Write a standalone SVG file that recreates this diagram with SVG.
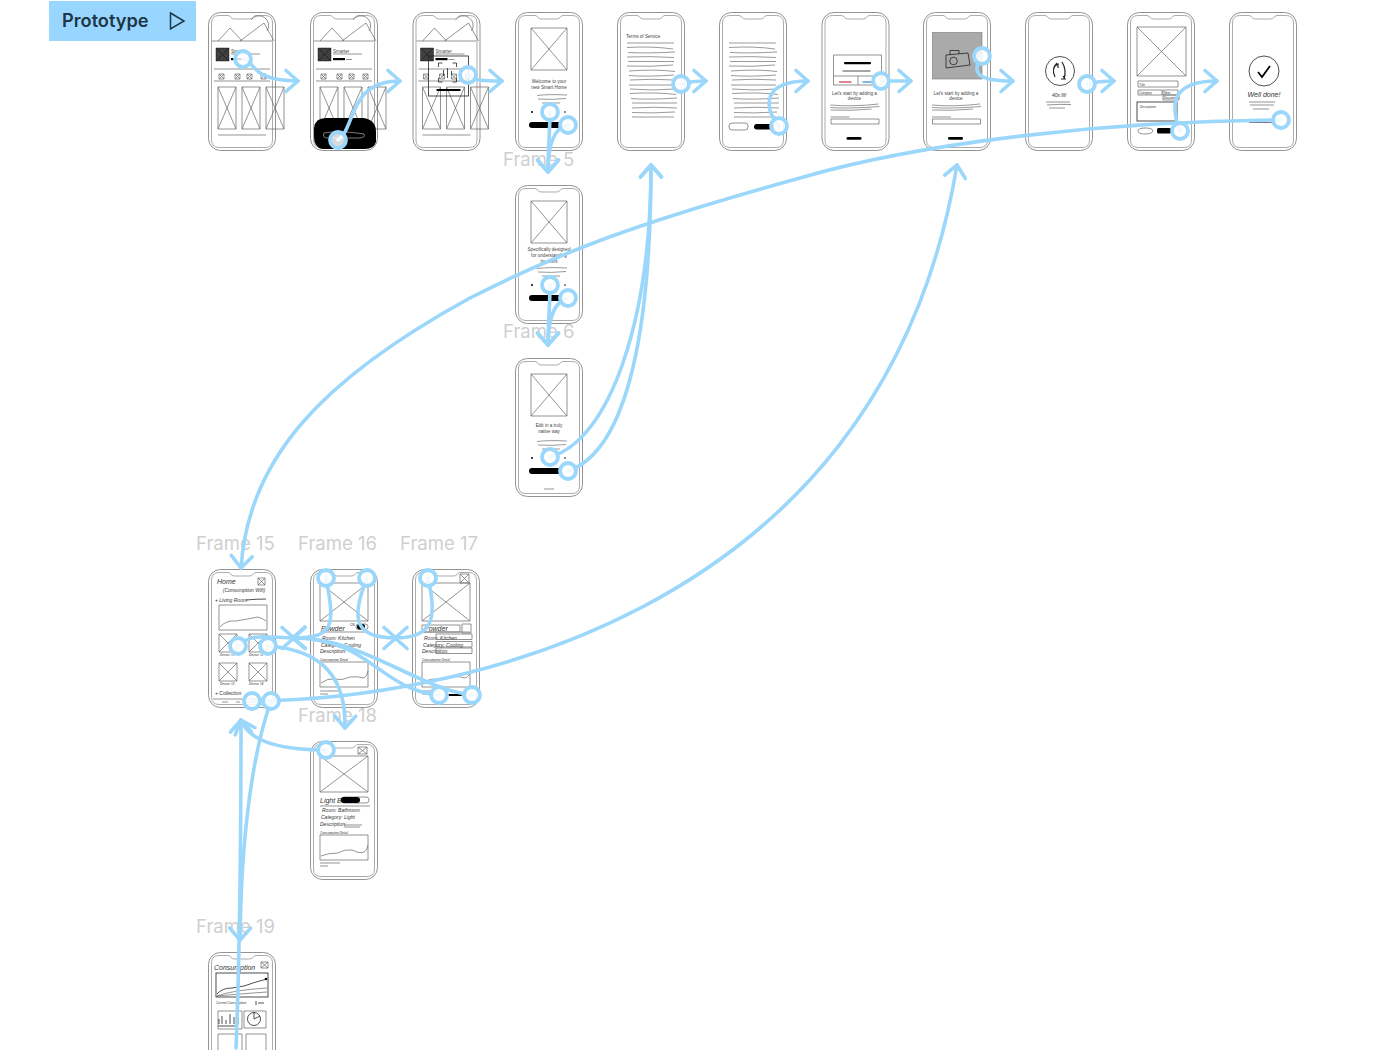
<svg xmlns="http://www.w3.org/2000/svg" width="1400" height="1050" viewBox="0 0 1400 1050">
<style>
.o{fill:#fff;stroke:#777;stroke-width:.8}
.i{fill:none;stroke:#888;stroke-width:.7}
.w{fill:none;stroke:#555;stroke-width:.6}
.l{fill:none;stroke:#666;stroke-width:.7;vector-effect:non-scaling-stroke}
.k{fill:none;stroke:#222;stroke-width:.8}
.b{fill:#000}
.t{font-family:"Liberation Sans",Arial,sans-serif;font-size:4.600px;fill:#444}
.c{text-anchor:middle}
.h{font-family:"Liberation Sans",Arial,sans-serif;font-style:italic;font-size:7px;fill:#333}
.hs{font-family:"Liberation Sans",Arial,sans-serif;font-style:italic;font-size:5px;fill:#333}
.xs{font-size:3.200px}
.f{font-family:Inter,"Liberation Sans",sans-serif;font-size:18.500px;fill:#cfcfcf}
.cn{fill:none;stroke:#9bd7fb;stroke-width:3.600;stroke-linecap:round;marker-start:url(#dot);marker-end:url(#arr)}
.cn2{fill:none;stroke:#9bd7fb;stroke-width:3.600;stroke-linecap:round;marker-end:url(#arr)}
</style>
<defs>
<marker id="arr" markerUnits="userSpaceOnUse" markerWidth="30" markerHeight="30" refX="15" refY="15" orient="auto" overflow="visible"><path d="M3 4.500L15 15L3 25.500" fill="none" stroke="#9bd7fb" stroke-width="3.600" stroke-linecap="round" stroke-linejoin="round"/></marker>
<marker id="dot" markerUnits="userSpaceOnUse" markerWidth="24" markerHeight="24" refX="12" refY="12" orient="0" overflow="visible"><circle cx="12" cy="12" r="8" fill="#fff" fill-opacity=".85" stroke="#9bd7fb" stroke-width="3.800"/></marker>
<g id="phone">
<rect class="o" x="0.500" y="0.500" width="67" height="138" rx="12"/>
<path class="i" d="M11 3.500H20Q22 3.500 23 5.500Q24 7 27 7H41Q44 7 45 5.500Q46 3.500 48 3.500H57Q64.500 3.500 64.500 11V128Q64.500 135.500 57 135.500H11Q3.500 135.500 3.500 128V11Q3.500 3.500 11 3.500Z"/>
</g>
<g id="xb"><rect class="l" width="10" height="10"/><path class="l" d="M0 0L10 10M10 0L0 10"/></g>
<g id="homebase">
<path class="l" d="M4 29H64M10 29L22 16L34 29M32 29L56 11L66 29"/>
<path class="l" d="M43 8A9 9 0 1 1 59 19"/>
<path class="l" d="M6 57H62M6 69H62M10 123H58M23 42H52"/>
<use href="#xb" transform="translate(8 36) scale(1.300)"/>
<rect class="b" x="8" y="36" width="13" height="13" fill-opacity=".75"/>
<use href="#xb" transform="translate(11 62) scale(.5)"/><use href="#xb" transform="translate(27 62) scale(.5)"/><use href="#xb" transform="translate(39 62) scale(.5)"/><use href="#xb" transform="translate(53 62) scale(.5)"/>
<use href="#xb" transform="translate(10 75) scale(1.800 4.200)"/><use href="#xb" transform="translate(34 75) scale(1.800 4.200)"/><use href="#xb" transform="translate(58 75) scale(1.800 4.200)"/>
<text class="t" x="23" y="40.500">Smarter</text>
<rect class="b" x="23" y="46" width="12" height="2.200"/>
<path class="l" d="M36 47.500H42"/>
</g>
<g id="onb">
<use href="#xb" transform="translate(16 16) scale(3.600 4.200)"/>
<path class="w" d="M22 83.500Q34 82 52 83M23 87Q36 88 51 86.500M27 91H45"/>
<circle class="b" cx="17" cy="100" r="1"/><circle class="b" cx="50" cy="100" r=".8"/>
<rect class="b" x="14" y="110" width="32" height="6" rx="3"/>
</g>
<path id="para" class="w" d="M0 0H47M0 4.500Q25 3 46 6M1 9.500Q20 10.500 48 9M0 14Q22 13 47 14.500M1 18.500H47M0 23Q25 24 46 22M2 28Q28 26 48 28.500M2 32.500Q20 34 47 32M3 37Q25 35.500 47 37M2 42H47M3 46Q25 48 48 46M3 50.500Q30 49 49 51.500M4 55.500Q22 57 50 55M5 60H50M5 65Q28 63.500 50 65M5 69.500Q25 70.500 48 69M5 74H47"/>
<g id="device">
<path class="w" d="M9 93Q30 95 57 92M9 95.500Q25 97 58 94.500M9 98Q30 99 50 97"/>
<path class="l" d="M9 105H28"/>
<rect class="l" x="9.500" y="107" width="48" height="5"/>
<rect class="b" x="25" y="125" width="15" height="2.800" rx="1.400"/>
<text class="t c" x="33" y="82.500">Let's start by adding a</text>
<text class="t c" x="33" y="88">device</text>
</g>
<g id="detail">
<use href="#xb" transform="translate(10 14) scale(4.800 3.800)"/>
<path class="l" d="M10 63H58"/>
<text class="hs" x="12" y="71">Room: Kitchen</text>
<text class="hs" x="11" y="77.500">Category: Cooling</text>
<text class="hs" x="10" y="84">Description:</text>
<text class="hs xs" x="10" y="92">Consumption Detail</text>
<rect class="l" x="10" y="93" width="48" height="25"/>
<path class="l" d="M11 114Q18 109 24 110Q32 112 40 108Q48 107 53 109Q57 108 58 102"/>
<path class="l" d="M10 122H28M10 125H18"/>
</g>
</defs>

<rect width="1400" height="1050" fill="#fff"/>
<g id="toolbar">
<rect x="49" y="1" width="147" height="40" fill="#99d6ff"/>
<text x="62" y="27" font-family="Inter,'Liberation Sans',sans-serif" font-weight="600" font-size="18.200" fill="#1c3748">Prototype</text>
<path d="M170.500 13L184 21L170.500 29Z" fill="none" stroke="#1c3748" stroke-width="1.500"/>
</g>

<g id="frame-1" transform="translate(208 12)"><use href="#phone"/><use href="#homebase"/></g>
<g id="frame-2" transform="translate(310 12)"><use href="#phone"/><use href="#homebase"/>
<path class="b" d="M4 116Q5 106 16 106H54Q66 108 66 120V130Q64 137 55 137H12Q4 135 4 125Z"/>
<path fill="none" stroke="#ccc" stroke-width=".6" d="M14 121Q30 118 54 122Q56 126 48 126H18Q12 126 14 121Z"/>
</g>
<g id="frame-3" transform="translate(412.500 12)"><use href="#phone"/><use href="#homebase"/>
<rect class="k" x="16" y="44" width="40" height="40"/>
<path class="k" d="M26 55V51H30M40 51H44V55M26 66V70H30M40 70H44V66M31 58V64M35 56V66M39 59V63"/>
<rect class="b" x="24" y="77" width="24" height="2"/>
</g>
<g id="frame-4" transform="translate(515 12)"><use href="#phone"/><use href="#onb"/>
<text class="t c" x="34" y="71">Welcome to your</text><text class="t c" x="34" y="77">new Smart Home</text>
</g>
<g id="frame-5" transform="translate(515 185)"><use href="#phone"/><use href="#onb"/>
<text class="t c" x="34" y="66">Specifically designed</text><text class="t c" x="34" y="72">for understanding</text><text class="t c" x="34" y="78">its users</text>
</g>
<g id="frame-6" transform="translate(515 358)"><use href="#phone"/><use href="#onb"/>
<text class="t c" x="34" y="69">Edit in a truly</text><text class="t c" x="34" y="75">native way</text>
<path class="l" d="M29 131H39"/>
</g>
<g id="frame-7" transform="translate(617 12)"><use href="#phone"/>
<text class="t" x="9" y="25.500">Terms of Service</text>
<use href="#para" transform="translate(10 31)"/>
</g>
<g id="frame-8" transform="translate(719 12)"><use href="#phone"/>
<use href="#para" transform="translate(10 31)"/>
<rect class="l" x="10" y="111" width="19" height="7" rx="3"/>
<rect class="b" x="35" y="112" width="20" height="5.500" rx="2.700"/>
</g>
<g id="frame-9" transform="translate(821.500 12)"><use href="#phone"/>
<rect class="l" x="12" y="43" width="48" height="30"/>
<rect class="b" x="22.500" y="50" width="27" height="2.200" rx="1"/>
<path class="k" d="M21 59H49"/>
<path class="l" d="M12 64H60M36.500 64V73"/>
<path d="M17.500 70H30" stroke="#d86a7c" stroke-width="1.600"/><path d="M41 70H55" stroke="#5aa7e0" stroke-width="1.600"/>
<use href="#device"/>
</g>
<g id="frame-10" transform="translate(923 12)"><use href="#phone"/>
<rect x="9.500" y="20.500" width="49.500" height="46.500" fill="#aaa" stroke="#777" stroke-width=".6"/>
<path class="k" d="M23 43L45 41L47 53L23 56ZM27 43V38.500H36V42"/><circle class="k" cx="30.500" cy="49" r="3.800"/>
<use href="#device"/>
</g>
<g id="frame-11" transform="translate(1025 12)"><use href="#phone"/>
<circle class="k" cx="35" cy="59" r="14.500"/>
<path d="M32 51Q26 57 30 65M37 50Q42 58 39 67M30 54L33 52L33 56M38 64L40 67L36 67" fill="none" stroke="#222" stroke-width="1.200"/>
<text class="hs c" x="34" y="85">40s fill</text>
<path class="l" d="M21 90H45M22 93Q35 92 46 92.500M24 96H40"/>
</g>
<g id="frame-12" transform="translate(1127 12)"><use href="#phone"/>
<use href="#xb" transform="translate(10 15) scale(4.900)"/>
<rect class="l" x="11" y="69" width="40" height="6"/>
<text class="hs xs" x="12" y="73.500">Title</text>
<rect class="l" x="11" y="78" width="24" height="5"/>
<text class="hs xs" x="12" y="82">Category</text>
<rect class="l" x="36" y="78" width="15" height="5"/>
<text class="hs xs" x="37" y="82">New</text>
<rect class="l" x="36" y="83" width="16" height="5"/>
<text class="hs xs" x="36.500" y="87">Documents</text>
<rect class="k" x="10" y="90" width="40" height="19"/>
<text class="hs xs" x="13" y="96">Description</text>
<path class="l" d="M11 119Q11 116 18 116Q26 116 26 119Q25 122 18 122Q11 122 11 119Z"/>
<rect class="b" x="30" y="116" width="14" height="5.500" rx="1.500"/>
</g>
<g id="frame-13" transform="translate(1229 12)"><use href="#phone"/>
<circle class="k" cx="35" cy="59" r="15"/>
<path d="M29 60L33 65L41 54" fill="none" stroke="#000" stroke-width="1.800"/>
<text class="h c" x="35" y="85">Well done!</text>
<path class="l" d="M20 90H46M21 93H45M24 97H40"/>
<rect x="20" y="107" width="24" height="1.500" fill="#778"/><rect x="20" y="110" width="24" height="1" fill="#778"/>
</g>

<g id="frame-15" transform="translate(208 569)"><use href="#phone"/>
<text class="h" x="9" y="15">Home</text>
<use href="#xb" transform="translate(50 9) scale(.7)"/>
<text class="hs c" x="36" y="23">(Consumption Wifi)</text>
<text class="hs" x="7" y="33">+ Living Room</text><path class="k" d="M38 31Q48 30 58 30"/>
<rect class="l" x="11" y="36" width="48" height="25"/>
<path class="l" d="M12 58Q18 51 28 52Q40 50 50 48Q56 50 58 52"/>
<use href="#xb" transform="translate(11 65) scale(1.800)"/><use href="#xb" transform="translate(41 65) scale(1.800)"/>
<use href="#xb" transform="translate(11 94) scale(1.800)"/><use href="#xb" transform="translate(41 94) scale(1.800)"/>
<text class="hs xs" x="12" y="87">Device #1</text><text class="hs xs" x="41" y="87">Device #2</text>
<text class="hs xs" x="12" y="116">Device #3</text><text class="hs xs" x="41" y="116">Device #4</text>
<text class="hs" x="7" y="126">+ Collection</text>
<path class="l" d="M5 130H60M14 133H20M28 133H32M38 133H44"/>
</g>
<g id="frame-16" transform="translate(310 569)"><use href="#phone"/>
<use href="#detail"/>
<text class="h" x="11" y="62">Powder</text>
<text class="hs xs" x="40" y="57">ON</text><rect class="l" x="46" y="55" width="12" height="5.500" rx="2.700"/><rect class="b" x="47" y="55" width="8" height="5.500" rx="2.700"/>
</g>
<g id="frame-17" transform="translate(412 569)"><use href="#phone"/>
<use href="#xb" transform="translate(48 5) scale(.9)"/>
<use href="#detail"/>
<rect class="l" x="10" y="56" width="38" height="7"/>
<text class="h" x="12" y="62">Powder</text>
<rect class="l" x="50" y="55" width="9" height="9"/>
<rect class="l" x="24" y="65" width="36" height="5.500"/><rect class="l" x="24" y="72.500" width="36" height="5.500"/><rect class="l" x="24" y="79" width="36" height="5.500"/>
<rect class="b" x="36" y="125" width="14" height="2" rx="1"/>
</g>
<g id="frame-18" transform="translate(310 741)"><use href="#phone"/>
<use href="#xb" transform="translate(48 6) scale(.9 .7)"/>
<use href="#xb" transform="translate(10 15) scale(4.800 3.600)"/>
<text class="h" x="10" y="62">Light Bulb</text>
<rect class="l" x="31" y="56" width="28" height="6" rx="3"/><rect class="b" x="31" y="56" width="19" height="6" rx="3"/>
<path class="l" d="M10 65H60"/>
<text class="hs" x="12" y="71">Room: Bathroom</text>
<text class="hs" x="11" y="78">Category: Light</text>
<text class="hs" x="10" y="85">Description:</text>
<path class="l" d="M34 84H52M34 86H50"/>
<text class="hs xs" x="10" y="93">Consumption Detail</text>
<rect class="l" x="10" y="94" width="48" height="25"/>
<path class="l" d="M11 115Q18 112 28 112Q34 108 42 109Q50 113 54 111Q57 110 58 104"/>
<path class="l" d="M10 122H30M10 125H18"/>
</g>
<g id="frame-19" transform="translate(208 952)"><use href="#phone"/>
<text class="h" x="6" y="18">Consumption</text>
<use href="#xb" transform="translate(53 10) scale(.7 .6)"/>
<rect class="k" x="8" y="21" width="52" height="24"/>
<path class="k" d="M9 42Q14 36 24 36Q36 35 48 30L59 27"/><circle class="b" cx="58" cy="27" r="1.300"/>
<path class="l" d="M9 44Q25 38 59 36M9 44Q30 42 59 40"/>
<text class="hs xs" x="8" y="52">Current Consumption</text>
<path class="k" d="M48 49V53M50 51H56"/>
<rect class="l" x="10" y="59" width="24" height="18"/>
<path class="k" d="M11 72V67M14 72V64M18 72V68M22 72V62M26 72V65M30 72V58"/>
<path class="k" d="M10 74H30"/>
<rect class="l" x="36" y="59" width="22" height="17"/><circle class="k" cx="46" cy="67" r="6.500"/><path class="k" d="M46 67L52 64M46 67L46 60"/>
<rect class="l" x="10" y="82" width="24" height="20"/><rect class="l" x="38" y="82" width="20" height="20"/>
</g>

<g id="frame-labels" class="f">
<text x="503" y="165.500">Frame 5</text>
<text x="503" y="338">Frame 6</text>
<text x="196" y="550">Frame 15</text>
<text x="298" y="550">Frame 16</text>
<text x="400" y="550">Frame 17</text>
<text x="298" y="722">Frame 18</text>
<text x="196" y="933">Frame 19</text>
</g>

<g id="connectors">
<path class="cn" d="M243 59C256 60 248 81 298 81"/>
<path class="cn" d="M338 140C356 128 348 81 400 81"/>
<path class="cn" d="M468 75C474 81 484 81 502 81"/>
<path class="cn" d="M681 84C688 82 696 81 706 81"/>
<path class="cn" d="M779 126C762 106 764 81 808 81"/>
<path class="cn" d="M881 81C890 81 900 81 911 81"/>
<path class="cn" d="M982 56C968 76 984 81 1013 81"/>
<path class="cn" d="M1087 84C1095 82 1105 81 1114 81"/>
<path class="cn" d="M1180 131C1168 100 1176 81 1217 81"/>
<path class="cn" d="M1281 120C1120 121 930 140 800 178C640 222 560 252 470 298C320 380 248 460 241 568"/>
<path class="cn" d="M550 112C550 130 548 150 548 172"/>
<path class="cn" d="M568 125C552 128 548 150 548 172"/>
<path class="cn" d="M550 285C550 305 548 325 548 345"/>
<path class="cn" d="M568 298C552 302 548 325 548 345"/>
<path class="cn" d="M550 457C610 440 651 320 651 165"/>
<path class="cn" d="M568 471C630 450 651 320 651 165"/>
<path class="cn" d="M238 646C252 632 270 638 294 638"/>
<path class="cn" d="M326 578C335 625 335 638 293 638"/>
<path class="cn" d="M367 578C350 620 355 638 396 638"/>
<path class="cn" d="M428 578C438 620 432 638 395 638"/>
<path class="cn" d="M268 646C325 650 346 680 345 728"/>
<path class="cn" d="M439 695C380 690 370 638 293 638"/>
<path class="cn" d="M472 695C420 690 360 636 293 638"/>
<path class="cn" d="M252 701C430 700 880 630 957 165"/>
<path class="cn" d="M271 701C250 760 241 850 240 940"/>
<path class="cn" d="M326 750C290 750 250 745 241 720"/>
<path class="cn2" d="M236 1048C240 950 241 830 241 720"/>
</g>
</svg>
